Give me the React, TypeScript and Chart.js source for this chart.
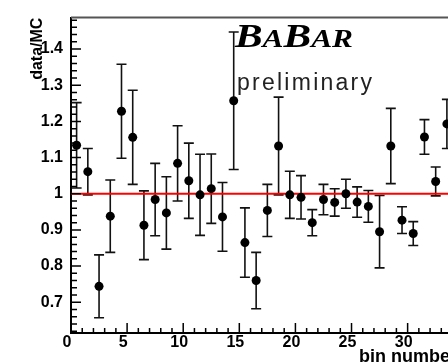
import React, { useEffect, useRef } from 'react';
import { Chart, registerables } from 'chart.js';

Chart.register(...registerables);

// ---- data ----
const binCenters = [
  0.5, 1.5, 2.5, 3.5, 4.5, 5.5, 6.5, 7.5, 8.5, 9.5,
  10.5, 11.5, 12.5, 13.5, 14.5, 15.5, 16.5, 17.5, 18.5, 19.5,
  20.5, 21.5, 22.5, 23.5, 24.5, 25.5, 26.5, 27.5, 28.5, 29.5,
  30.5, 31.5, 32.5, 33.5,
];
const ratioValues = [
  1.134, 1.061, 0.744, 0.938, 1.228, 1.156, 0.913, 0.984, 0.947, 1.084,
  1.036, 0.997, 1.014, 0.936, 1.257, 0.865, 0.760, 0.954, 1.132, 0.997,
  0.990, 0.920, 0.984, 0.976, 1.000, 0.977, 0.965, 0.895, 1.132, 0.927,
  0.890, 1.157, 1.034, 1.193,
];
const ratioErrors = [
  0.118, 0.064, 0.087, 0.100, 0.130, 0.130, 0.095, 0.100, 0.100, 0.104,
  0.104, 0.112, 0.096, 0.095, 0.190, 0.096, 0.078, 0.072, 0.135, 0.065,
  0.060, 0.036, 0.042, 0.038, 0.040, 0.042, 0.044, 0.100, 0.104, 0.037,
  0.033, 0.048, 0.040, 0.068,
];
const referenceLevel = 1.0;
const xAxisTitle = 'bin number';
const yAxisTitle = 'data/MC';
const logoLetters = ['B', 'A', 'B', 'A', 'R'];
const logoBig = [true, false, true, false, false];
const subLabel = 'preliminary';

const X_MIN = 0;
const X_MAX = 34.4;
const Y_MIN = 0.615;
const Y_MAX = 1.487;
const X_MAJOR = 5;
const Y_MAJOR = 0.1;

const CW = 480;
const CH = 380;
const FONT = "'Liberation Sans', Arial, Helvetica, sans-serif";

const errorBarPlugin = {
  id: 'errorBars',
  beforeDatasetsDraw(chart: any) {
    const { ctx, chartArea, scales } = chart;
    const x = scales.x;
    const y = scales.y;
    ctx.save();
    ctx.beginPath();
    ctx.rect(chartArea.left, chartArea.top, chartArea.right - chartArea.left, chartArea.bottom - chartArea.top);
    ctx.clip();
    ctx.strokeStyle = '#111';
    ctx.lineWidth = 1.6;
    binCenters.forEach((c, i) => {
      const px = x.getPixelForValue(c);
      const pt = y.getPixelForValue(ratioValues[i] + ratioErrors[i]);
      const pb = y.getPixelForValue(ratioValues[i] - ratioErrors[i]);
      ctx.beginPath();
      ctx.moveTo(px, pt);
      ctx.lineTo(px, pb);
      ctx.moveTo(px - 5, pt);
      ctx.lineTo(px + 5, pt);
      ctx.moveTo(px - 5, pb);
      ctx.lineTo(px + 5, pb);
      ctx.stroke();
    });
    ctx.restore();
  },
};

const axisTicksPlugin = {
  id: 'axisTicks',
  afterDatasetsDraw(chart: any) {
    const { ctx, chartArea, scales } = chart;
    const x = scales.x;
    const y = scales.y;
    ctx.save();
    ctx.strokeStyle = '#000';
    ctx.lineWidth = 1.5;
    ctx.beginPath();
    for (let k = Math.ceil(X_MIN); k <= Math.floor(X_MAX); k++) {
      const px = x.getPixelForValue(k);
      const len = k % X_MAJOR === 0 ? 10 : 5;
      ctx.moveTo(px, chartArea.bottom);
      ctx.lineTo(px, chartArea.bottom - len);
    }
    for (let k = Math.ceil(Y_MIN / 0.02); k <= Math.floor(Y_MAX / 0.02); k++) {
      const py = y.getPixelForValue(k * 0.02);
      const len = k % 5 === 0 ? 10 : 6;
      ctx.moveTo(chartArea.left, py);
      ctx.lineTo(chartArea.left + len, py);
    }
    ctx.stroke();
    ctx.strokeStyle = '#555';
    ctx.lineWidth = 2;
    ctx.beginPath();
    ctx.moveTo(chartArea.left, chartArea.top);
    ctx.lineTo(chartArea.right, chartArea.top);
    ctx.stroke();
    ctx.restore();
  },
};

const logoPlugin = {
  id: 'logo',
  afterDraw(chart: any) {
    const { ctx } = chart;
    ctx.save();
    // BaBar logo
    const bigFont = "italic bold 33px 'Liberation Serif', 'Times New Roman', serif";
    const smallFont = "italic bold 25px 'Liberation Serif', 'Times New Roman', serif";
    let natural = 0;
    const widths = logoLetters.map((ch, i) => {
      ctx.font = logoBig[i] ? bigFont : smallFont;
      const w = ctx.measureText(ch).width;
      natural += w;
      return w;
    });
    const sx = 118 / natural;
    let cx = 235;
    ctx.fillStyle = '#000';
    ctx.textBaseline = 'alphabetic';
    ctx.textAlign = 'left';
    logoLetters.forEach((ch, i) => {
      ctx.save();
      ctx.font = logoBig[i] ? bigFont : smallFont;
      ctx.translate(cx, 47);
      ctx.scale(sx, 1);
      ctx.fillText(ch, 0, 0);
      ctx.restore();
      cx += widths[i] * sx;
    });
    // preliminary
    ctx.font = `23px ${FONT}`;
    ctx.fillStyle = '#222';
    const chars = subLabel.split('');
    const cw = chars.map((c) => ctx.measureText(c).width);
    const tot = cw.reduce((a, b) => a + b, 0);
    const gap = Math.max(0, (135 - tot) / (chars.length - 1));
    let px = 237;
    chars.forEach((c, i) => {
      ctx.fillText(c, px, 90);
      px += cw[i] + gap;
    });
    ctx.restore();
  },
};

export default function App() {
  const canvasRef = useRef<HTMLCanvasElement | null>(null);

  useEffect(() => {
    const canvas = canvasRef.current;
    if (!canvas) return;
    const chart = new Chart(canvas, {
      type: 'scatter',
      data: {
        datasets: [
          {
            label: 'data/MC',
            data: binCenters.map((c, i) => ({ x: c, y: ratioValues[i] })),
            pointRadius: 4.5,
            pointBackgroundColor: '#000',
            pointBorderColor: '#000',
            pointBorderWidth: 0,
            showLine: false,
            order: 0,
          },
          {
            label: 'unity',
            type: 'line',
            data: [
              { x: X_MIN, y: referenceLevel },
              { x: X_MAX, y: referenceLevel },
            ],
            borderColor: '#ff0000',
            borderWidth: 2,
            pointRadius: 0,
            showLine: true,
            order: 1,
          } as any,
        ],
      },
      options: {
        responsive: false,
        animation: false,
        events: [],
        layout: { padding: { left: 0, top: 14, right: CW - 457, bottom: 0 } },
        plugins: {
          legend: { display: false },
          tooltip: { enabled: false },
        },
        scales: {
          x: {
            type: 'linear',
            min: X_MIN,
            max: X_MAX,
            grid: { display: false, drawTicks: false },
            border: { display: true, color: '#000', width: 2 },
            ticks: {
              stepSize: X_MAJOR,
              includeBounds: false,
              padding: 0,
              labelOffset: -4,
              autoSkip: false,
              maxRotation: 0,
              color: '#000',
              font: { family: FONT, size: 16, weight: 'bold' },
              callback: (v: any) => String(Math.round(Number(v))),
            },
            title: {
              display: true,
              text: xAxisTitle,
              align: 'end',
              color: '#000',
              font: { family: FONT, size: 18, weight: 'bold' },
              padding: { top: 0, bottom: 12 },
            },
            afterFit: (s: any) => {
              s.height = 47;
            },
          },
          y: {
            type: 'linear',
            min: Y_MIN,
            max: Y_MAX,
            grid: { display: false, drawTicks: false },
            border: { display: true, color: '#000', width: 2 },
            ticks: {
              stepSize: Y_MAJOR,
              includeBounds: false,
              padding: 8,
              autoSkip: false,
              color: '#000',
              font: { family: FONT, size: 16, weight: 'bold' },
              callback: (v: any) => String(Number(Number(v).toFixed(1))),
            },
            title: {
              display: true,
              text: yAxisTitle,
              align: 'end',
              color: '#000',
              font: { family: FONT, size: 16, weight: 'bold' },
              padding: { top: 27.6, bottom: 0 },
            },
            afterFit: (s: any) => {
              s.width = 71;
            },
          },
        },
      },
      plugins: [errorBarPlugin, axisTicksPlugin, logoPlugin],
    } as any);
    return () => chart.destroy();
  }, []);

  return (
    <div
      style={{
        position: 'fixed',
        left: 0,
        top: 0,
        width: 448,
        height: 362,
        overflow: 'hidden',
        background: '#fff',
      }}
    >
      <canvas
        ref={canvasRef}
        width={CW}
        height={CH}
        style={{ width: CW, height: CH, display: 'block' }}
      />
    </div>
  );
}
